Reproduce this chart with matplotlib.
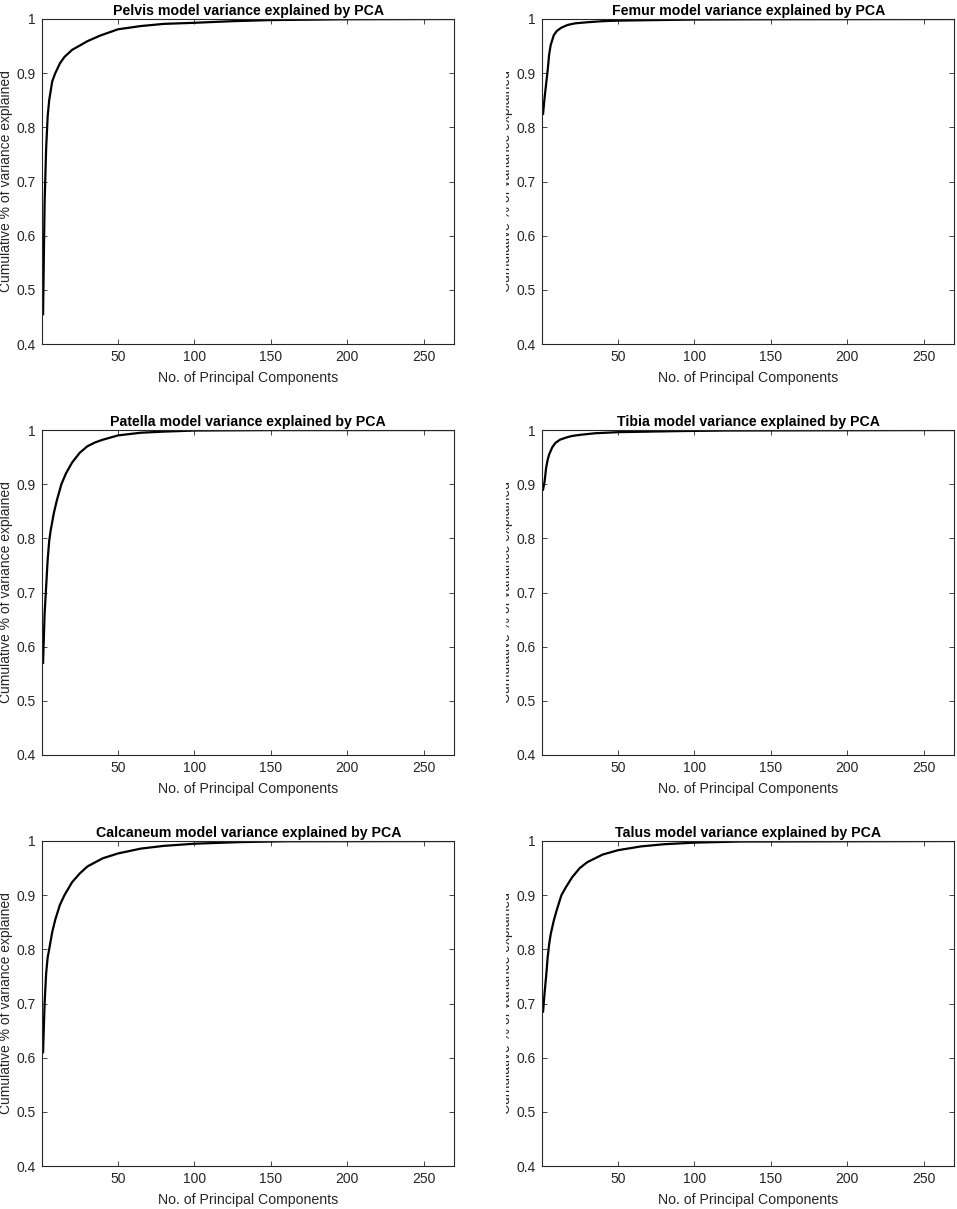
import matplotlib
matplotlib.use('Agg')
import matplotlib.pyplot as plt
from matplotlib.transforms import Bbox, TransformedBbox

plt.rcParams['font.family'] = ['Liberation Sans', 'DejaVu Sans']

# cumulative variance explained
models = ['Pelvis', 'Femur', 'Patella', 'Tibia', 'Calcaneum', 'Talus']

pelvis_pc = [1, 2, 3, 4, 5, 7, 9, 12, 15, 20, 25, 30, 38, 50, 65, 80, 100, 125, 150, 200, 270]
pelvis_var = [0.455, 0.66, 0.76, 0.82, 0.85, 0.885, 0.90, 0.918, 0.93, 0.943, 0.951, 0.959, 0.969,
              0.981, 0.987, 0.991, 0.993, 0.996, 0.998, 0.9995, 1.0]

femur_pc = [1, 2, 3, 4, 5, 6, 8, 10, 13, 17, 22, 30, 40, 50, 75, 100, 150, 270]
femur_var = [0.825, 0.855, 0.88, 0.905, 0.935, 0.952, 0.97, 0.978, 0.984, 0.989, 0.992, 0.994,
             0.996, 0.997, 0.998, 0.999, 0.9995, 1.0]

patella_pc = [1, 2, 3, 4, 5, 6, 8, 10, 13, 16, 20, 25, 30, 35, 40, 50, 65, 80, 100, 150, 270]
patella_var = [0.57, 0.66, 0.71, 0.76, 0.795, 0.815, 0.846, 0.87, 0.9, 0.92, 0.94, 0.958, 0.97,
               0.977, 0.982, 0.99, 0.995, 0.997, 0.999, 0.9998, 1.0]

tibia_pc = [1, 2, 3, 4, 5, 7, 9, 12, 16, 20, 25, 35, 50, 70, 90, 120, 270]
tibia_var = [0.89, 0.905, 0.93, 0.945, 0.955, 0.968, 0.976, 0.982, 0.986, 0.989, 0.991, 0.994,
             0.996, 0.997, 0.998, 0.999, 1.0]

calcaneum_pc = [1, 2, 3, 4, 5, 7, 9, 12, 15, 20, 25, 30, 40, 50, 65, 80, 100, 130, 160, 270]
calcaneum_var = [0.61, 0.70, 0.755, 0.785, 0.8, 0.832, 0.855, 0.882, 0.9, 0.924, 0.94, 0.953,
                 0.968, 0.977, 0.986, 0.991, 0.995, 0.998, 0.9995, 1.0]

talus_pc = [1, 2, 3, 4, 5, 6, 8, 10, 13, 16, 20, 25, 30, 40, 50, 65, 80, 100, 130, 270]
talus_var = [0.685, 0.72, 0.75, 0.785, 0.81, 0.828, 0.853, 0.873, 0.9, 0.915, 0.933, 0.95,
             0.961, 0.975, 0.983, 0.99, 0.994, 0.997, 0.999, 1.0]

pcs = [pelvis_pc, femur_pc, patella_pc, tibia_pc, calcaneum_pc, talus_pc]
vars_ = [pelvis_var, femur_var, patella_var, tibia_var, calcaneum_var, talus_var]

xticks = [50, 100, 150, 200, 250]
yticks = [0.4, 0.5, 0.6, 0.7, 0.8, 0.9, 1.0]
ytick_labels = ['0.4', '0.5', '0.6', '0.7', '0.8', '0.9', '1']

W, H = 957, 1209
fig = plt.figure(figsize=(W / 100, H / 100), dpi=100)

lefts = [42.3, 542.3]
tops = [19, 430, 841]
aw, ah = 412, 325
gray = '#262626'

for i in range(6):
    r, c = divmod(i, 2)
    ax = fig.add_axes([lefts[c] / W, 1 - (tops[r] + ah) / H, aw / W, ah / H])
    ax.plot(pcs[i], vars_[i], color='black', lw=1.6)
    ax.set_xlim(0.5, 270)
    ax.set_ylim(0.4, 1.0)
    ax.set_xticks(xticks)
    ax.set_yticks(yticks)
    ax.set_yticklabels(ytick_labels)
    ax.tick_params(direction='in', length=3.5, width=0.6, colors=gray, labelsize=10,
                   top=True, right=True, pad=4.5)
    for s in ax.spines.values():
        s.set_color(gray)
        s.set_linewidth(0.8)
    ax.set_title(models[i] + ' model variance explained by PCA', fontsize=10.2,
                 fontweight='bold', pad=3)
    ax.set_xlabel('No. of Principal Components', fontsize=10.2, color=gray, labelpad=5)
    ax.set_ylabel('Cumulative % of variance explained', fontsize=10, color=gray)
    # right edge of the rotated label sits ~29 px left of the axis
    ax.yaxis.set_label_coords(-29.5 / aw, 0.5)
    if c == 1:
        # right column label is partly hidden behind the left panel
        lab = ax.yaxis.label
        lab.set_clip_box(TransformedBbox(Bbox.from_extents(506 / W, 0, 1, 1), fig.transFigure))
        lab.set_clip_on(True)

fig.savefig('out.png', dpi=100)
